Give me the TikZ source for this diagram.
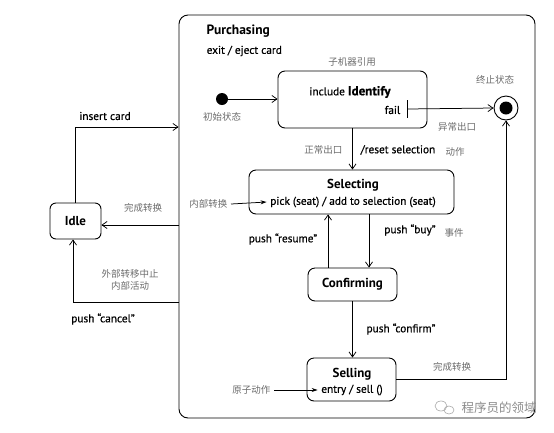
\documentclass[tikz,border=0pt]{standalone}
\usepackage{fontspec}
\setmainfont{PT Sans}
\newfontfamily\semib[FakeBold=0.6]{PT Sans}
\newfontfamily\cjk{Noto Sans CJK SC}
\usetikzlibrary{arrows.meta}
\begin{document}
\begin{tikzpicture}[x=1pt,y=-1pt,
  line width=0.75pt,
  state/.style={draw,rounded corners=7pt,inner sep=0pt,line width=0.9pt},
  tr/.style={-{Straight Barb[length=5pt,width=7pt]}},
  itr/.style={-{Stealth[length=6pt,width=4pt]}},
  lbl/.style={font=\semib\fontsize{11.3}{13}\selectfont},
  ttl/.style={font=\bfseries\fontsize{13}{15}\selectfont},
  zh/.style={font=\cjk\fontsize{9.5}{12}\selectfont,text=black!58},
]
\useasboundingbox (0,0) rectangle (554,432);
% composite state
\node[state,rounded corners=9pt,minimum width=356pt,minimum height=403pt] (purch) at (357,216.5) {};
\node[anchor=west,font=\bfseries\fontsize{13.5}{15}\selectfont] (ptitle) at (203,31) {Purchasing};
\node[anchor=west,lbl] (pexit) at (203,51) {exit / eject card};

% Idle
\node[state,rounded corners=6pt,minimum width=51pt,minimum height=36pt,ttl] (idle) at (75.5,221) {Idle};

% Identify
\node[state,minimum width=149pt,minimum height=57pt] (ident) at (352.5,99.5) {};
\node[lbl] (incl) at (350,92) {include {\bfseries\fontsize{13}{15}\selectfont Identify}};
\node[lbl,anchor=east] (fail) at (404,110) {fail};
\node[zh] (zsub) at (352,62) {子机器引用};

% initial
\node[circle,fill,minimum size=12pt,inner sep=0pt] (init) at (222,99) {};
\node[zh] (zinit) at (222,117) {初始状态};

% final
\node[circle,draw,line width=0.9pt,minimum size=24pt,inner sep=0pt] (final) at (506,108) {};
\node[circle,fill,minimum size=13pt,inner sep=0pt] (finalin) at (506,108) {};
\node[zh] (zfin) at (495,80) {终止状态};
\node[zh] (zexc) at (457,127) {异常出口};

% Selecting
\node[state,minimum width=205pt,minimum height=44pt] (sel) at (351.5,192) {};
\node[ttl] (seltitle) at (353,185) {Selecting};
\node[lbl] (selint) at (353,202) {pick (seat) / add to selection (seat)};
\node[zh,anchor=east] (zint) at (231,204) {内部转换};

% Confirming
\node[state,minimum width=89pt,minimum height=33pt,ttl] (conf) at (352.5,284.5) {Confirming};

% Selling
\node[state,minimum width=89pt,minimum height=43pt] (sell) at (351.5,379.5) {};
\node[ttl] (selltitle) at (352,374) {Selling};
\node[lbl] (sellent) at (352,390) {entry / sell ()};
\node[zh,anchor=east] (zatom) at (274,390) {原子动作};

% connectors inside
\draw[tr] (init) -- (init -| ident.west);
\coordinate (failbar) at (407,109);
\draw (407,100) -- (407,118);
\draw[tr] (failbar) -- (final.west);
\draw[tr] (ident.south) -- (ident.south |- sel.north);
\node[zh,anchor=east] (znorm) at (346,150) {正常出口};
\node[lbl,anchor=west] (reset) at (357,150) {/reset selection};
\node[zh,anchor=west] (zact) at (442,152) {动作};
\draw[itr] (zint.east) -- (selint.west);
\draw[tr] ([xshift=-24.5pt]conf.north) -- ([xshift=-24.5pt]conf.north |- sel.south);
\node[lbl] (resume) at (283,239) {push “resume”};
\draw[tr] ([xshift=16.5pt]conf.north |- sel.south) -- ([xshift=16.5pt]conf.north);
\node[lbl] (buy) at (410,230) {push “buy”};
\node[zh] (zevt) at (454,233) {事件};
\draw[tr] (conf.south) -- (conf.south |- sell.north);
\node[lbl] (confirm) at (401,329) {push “confirm”};
\draw[itr] (zatom.east) -- (sellent.west);
\draw[tr] (sell.east) -| (final.south);
\node[zh] (zdone2) at (452,367) {完成转换};

% outside connectors
\coordinate (inA) at (179,127);
\draw[tr] (idle.north) |- (purch.west |- inA);
\node[lbl] (insert) at (105,116) {insert card};
\coordinate (doneA) at (179,225);
\draw[tr] (purch.west |- doneA) -- (idle.east |- doneA);
\node[zh] (zdone1) at (143,208) {完成转换};
\coordinate (cancA) at (179,302);
\draw[tr] (purch.west |- cancA) -| ([xshift=-2.5pt]idle.south);
\node[zh,align=center] (zext) at (130,280) {外部转移中止\\内部活动};
\node[lbl] (cancel) at (103,319) {push “cancel”};

% watermark
\node[font=\cjk\fontsize{12.5}{14}\selectfont,text=black!45,anchor=west] (wm) at (458,408) {程序员的领域};
\draw[black!35,line width=0.6pt] (441,406) ellipse (6pt and 5pt);
\draw[black!35,line width=0.6pt] (449,410) ellipse (5pt and 4pt);
\end{tikzpicture}
\end{document}
